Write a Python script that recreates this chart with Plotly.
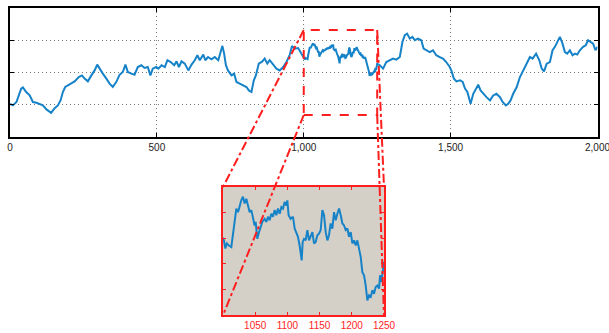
import plotly.graph_objects as go

# ---- data ----
x_vals = [0, 10, 22, 30, 38, 44, 55, 67, 78, 90, 101, 112, 124, 135, 140, 152, 163, 172, 180, 188,
          203, 220, 234, 245, 254, 265, 277, 288, 297, 305, 316, 328, 339, 350, 362, 373, 384, 393,
          401, 413, 424, 435, 447, 458, 469, 478, 486, 498,
          505, 516, 527, 536, 547, 559, 567, 575, 584, 595, 607, 618, 629, 638, 646, 658, 665, 674,
          686, 697, 709, 717, 723, 729, 735, 742, 754, 763, 771, 782, 794, 805, 813, 822, 830, 837,
          847, 859, 867, 876, 884, 896, 907, 918, 930, 941, 952, 960, 969, 981, 992,
          1001.5, 1003.6, 1006, 1009, 1012.9, 1015.5, 1018, 1020.7, 1023.3, 1025.8, 1028.4, 1031,
          1033.6, 1036.2, 1038.8, 1041.4, 1044, 1046.6, 1049.1, 1050.7, 1053.3, 1055.9, 1058.5,
          1061, 1064.7, 1067.3, 1069.9, 1072.4, 1075, 1077.6, 1080.2, 1082.8, 1085.4, 1088,
          1090.6, 1093.2, 1095.7, 1098.3, 1099.9, 1101.9, 1105.1, 1108.7, 1111.3, 1113.9, 1116.4,
          1119, 1121.6, 1122.2, 1123.7, 1125.8, 1128.4, 1131, 1133.6, 1136.2, 1138.8, 1141.3,
          1143.9, 1146.5, 1149.1, 1151.7, 1154.3, 1156.9, 1159.5, 1162.1, 1164.6, 1167.2, 1169.8,
          1172.4, 1175, 1177.6, 1180.2, 1182.8, 1185.4, 1188, 1190.5, 1193.1, 1195.7, 1198.3,
          1200.9, 1203.5, 1206.1, 1208.6, 1211.2, 1213.8, 1216.4, 1219, 1221.6, 1224.2, 1226.8,
          1229.4, 1232, 1234.5, 1237.1, 1239.7, 1242.3, 1243.9, 1246, 1248, 1250,
          1259, 1270, 1281, 1292, 1304, 1315, 1327, 1336, 1344, 1352, 1361, 1370, 1378, 1389,
          1400, 1408, 1417, 1429, 1440, 1451, 1463, 1474, 1485, 1497,
          1503, 1511, 1520, 1532, 1541, 1549, 1557, 1568, 1577, 1586, 1594, 1602, 1611, 1622,
          1634, 1645, 1656, 1668, 1677, 1688, 1696, 1704, 1713, 1725, 1736, 1747, 1759, 1770,
          1779, 1791, 1802, 1810, 1818, 1827, 1838, 1847, 1855, 1864, 1872, 1881, 1889, 1897,
          1906, 1915, 1923, 1931, 1940, 1951, 1960, 1968, 1976, 1985, 1993, 2000]

y_vals = [-19.4, -20.4, -18.3, -14.2, -10, -9.2, -12.1, -14.2, -18.3, -18.8, -19.8, -20.4, -22.9,
          -24.2, -25, -22.1, -20.4, -17.3, -12.1, -9,
          -7.6, -5.5, -2.8, -1.8, -3.8, -5.5, -1.8, 1.3, 4.9, 2.4, -0.7, -3.8, -6.9, -9, -5.8,
          -1.4, 0.3, 4.9, 0.3, -0.7, -1.4, 3.4, 4.5, 2.8, 3.4, -1.8, 2.4, 3.4,
          2.4, 4.5, 3.4, 7.6, 6.5, 4.5, 6.9, 3.4, 6.9, 5.5, 1.3, 4.9, 7.6, 10.7, 7.6, 11.1, 7.6,
          9.6, 8.2, 9.6, 7.6, 12.7, 16.5, 11.7, 4.5, 1.3, -1.8, -0.7, -5.9, -6.9, -8, -9, -11.1,
          -12.1, -4.8, -1.8, 5.5, 6.9, 8.6, 5.5, 7.6, 4.9, 2.4, 1.3, 3.4, 6.5, 10.7, 16.5, 14.8,
          15.2, 11.7,
          9.6, 8.0, 9.0, 8.6, 8.3, 11.2, 13.8, 15.8, 15.1, 16.4, 17.4, 18.1,
          16.8, 17.7, 16.4, 15.1, 15.5, 13.8, 12.5, 13.2, 9.9, 11.2, 12.2,
          13.2, 13.8, 13.2, 14.2, 13.5, 14.8, 14.2, 15.5, 14.5, 15.8, 14.8,
          16.1, 15.8, 17.1, 16.4, 17.4, 14.5, 13.8, 14.2, 11.9, 11.2, 10.3,
          8.6, 5.7, 5.7, 9.3, 9.9, 9.6, 11.6, 9.6, 10.6, 11.2, 9.0,
          9.3, 10.6, 10.9, 11.6, 15.5, 14.5, 11.2, 9.6, 10.6, 12.9, 11.9,
          15.1, 13.5, 14.8, 15.8, 14.5, 12.9, 12.5, 11.6, 11.9, 10.3, 11.2,
          9.0, 9.6, 8.6, 9.6, 8.0, 6.4, 3.4, 2.8, 0.8, -2.1, -1.1,
          -1.4, -0.1, -0.8, 0.5, 0.8, 0.2, 2.8, 1.5, 4.1, 5.4,
          4.5, 2.4, 6.5, 7.6, 8.6, 8.0, 9.6, 19, 23.1, 24.1, 21, 22.1, 20, 21,
          20, 14.8, 13.8, 12.7, 13.8, 10.7, 9.6, 8.6, 6.5, 3.4,
          1.0, -3.8, -5.5, -4.8, -5.9, -10, -12.1, -19.4, -13.2, -10.5, -7.6, -11.1, -13.2, -15.3,
          -17.3, -14.2, -13.2, -15.3, -18.3, -20.4, -19.4, -17.3, -13.2, -9, -2.8, 1.3, 6.5, 9.6,
          8.6, 11.7, 7.6, 2.4, 0.7, 5.5, 6.5, 13.8, 15.9, 19, 22.1, 17.9, 12.7, 11.7,
          13.8, 10.7, 11.7, 11.1, 13.8, 15.9, 16.9, 20, 19, 17.9, 13.8, 15.9]

main_xticks = [0, 500, 1000, 1500, 2000]
main_ygrid = [-20, 0, 20]
inset_xticks = [1050, 1100, 1150, 1200, 1250]
inset_yticks = [0, 5, 10, 15]
zoom_window = [1000, 1250]
zoom_box_y = [-26.4, 26.4]
main_xrange = [0, 2000]
main_yrange = [-40, 40]
inset_yrange = [-5, 20]

# ---- layout geometry ----
W, H = 609, 333
main_dx = [10 / W, 597.5 / W]
main_dy = [1 - 137 / H, 1 - 8 / H]
ins_dx = [223 / W, 384 / W]
ins_dy = [1 - 315.3 / H, 1 - 187 / H]

LINE = "#1683c8"
RED = "rgb(255,30,30)"
FONT = "Liberation Sans, Arial, sans-serif"

fig = go.Figure()
fig.add_trace(go.Scatter(x=x_vals, y=y_vals, mode="lines", line=dict(color=LINE, width=2),
                         xaxis="x", yaxis="y", showlegend=False, hoverinfo="skip"))
fig.add_trace(go.Scatter(x=x_vals, y=y_vals, mode="lines", line=dict(color=LINE, width=2),
                         xaxis="x2", yaxis="y2", showlegend=False, hoverinfo="skip"))


def to_paper(xv, yv):
    px = main_dx[0] + (xv - main_xrange[0]) / (main_xrange[1] - main_xrange[0]) * (main_dx[1] - main_dx[0])
    py = main_dy[0] + (yv - main_yrange[0]) / (main_yrange[1] - main_yrange[0]) * (main_dy[1] - main_dy[0])
    return px, py


shapes = [dict(type="rect", xref="x", yref="y", x0=zoom_window[0], x1=zoom_window[1],
               y0=zoom_box_y[0], y1=zoom_box_y[1], line=dict(color=RED, width=2, dash="dash"),
               layer="above")]
tl = to_paper(zoom_window[0], zoom_box_y[1])
bl = to_paper(zoom_window[0], zoom_box_y[0])
tr = to_paper(zoom_window[1], zoom_box_y[1])
br = to_paper(zoom_window[1], zoom_box_y[0])
for (a, b) in [(tl, (ins_dx[0], ins_dy[1])), (bl, (ins_dx[0], ins_dy[0])),
               (tr, (ins_dx[1], ins_dy[1])), (br, (ins_dx[1], ins_dy[0]))]:
    shapes.append(dict(type="line", xref="paper", yref="paper", x0=a[0], y0=a[1], x1=b[0], y1=b[1],
                       line=dict(color=RED, width=2, dash="dashdot"), layer="above"))

GRID_DASH = "1px,3px"
fig.update_layout(
    width=W, height=H, margin=dict(l=0, r=0, t=0, b=0, autoexpand=False),
    paper_bgcolor="white", plot_bgcolor="white", separators=".,",
    font=dict(family=FONT, size=10, color="#222"),
    xaxis=dict(domain=main_dx, range=main_xrange, tickvals=main_xticks, tickformat=",d",
               showgrid=True, gridcolor="#777", griddash=GRID_DASH, gridwidth=1,
               showline=True, linecolor="black", linewidth=1.5, mirror="ticks",
               ticks="inside", ticklen=4, tickcolor="black", zeroline=False, anchor="y",
               automargin=False, ticklabeloverflow="allow"),
    yaxis=dict(domain=main_dy, range=main_yrange, tickvals=main_ygrid, showticklabels=False,
               showgrid=True, gridcolor="#777", griddash=GRID_DASH, gridwidth=1,
               showline=True, linecolor="black", linewidth=1.5, mirror="ticks",
               ticks="inside", ticklen=4, tickcolor="black", zeroline=False, anchor="x",
               automargin=False),
    xaxis2=dict(domain=ins_dx, range=zoom_window, tickvals=inset_xticks, tickformat="d",
                showgrid=False, showline=True, linecolor=RED, linewidth=2, mirror="ticks",
                ticks="inside", ticklen=3, tickcolor=RED, zeroline=False, anchor="y2",
                tickfont=dict(color=RED, size=10, family=FONT), automargin=False,
                ticklabeloverflow="allow"),
    yaxis2=dict(domain=ins_dy, range=inset_yrange, tickvals=inset_yticks, showticklabels=False,
                showgrid=False, showline=True, linecolor=RED, linewidth=2, mirror="ticks",
                ticks="inside", ticklen=3, tickcolor=RED, zeroline=False, anchor="x2",
                automargin=False),
    shapes=shapes,
)
fig.add_shape(type="rect", xref="x2 domain", yref="y2 domain", x0=0, x1=1, y0=0, y1=1,
              fillcolor="#d4d0c8", line=dict(width=0), layer="below")

fig.write_html("out.html")
